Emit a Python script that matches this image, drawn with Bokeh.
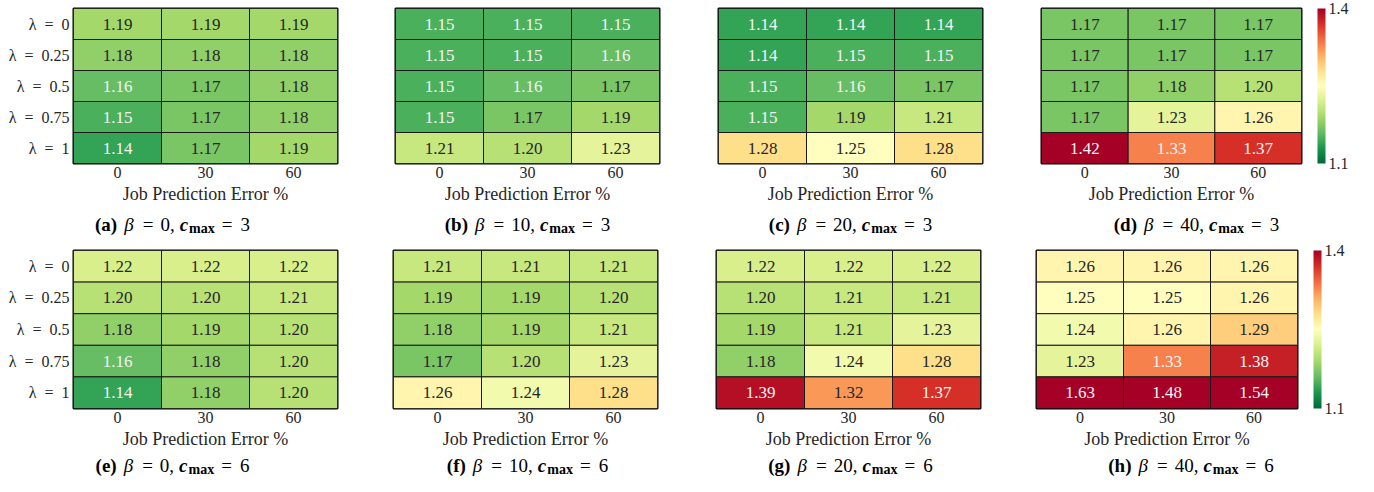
import numpy as np
from bokeh.plotting import figure
from bokeh.models import ColumnDataSource, LinearColorMapper, ColorBar, FixedTicker, FactorRange, Range1d
from bokeh.layouts import row, column
from bokeh.transform import transform
from bokeh.core.properties import value
from bokeh.embed import file_html
from bokeh.resources import INLINE

# ---------------- data ----------------
error_labels = ["0", "30", "60"]
lambda_labels = ["λ = 0", "λ = 0.25", "λ = 0.5", "λ = 0.75", "λ = 1"]
panel_letters = ["a", "b", "c", "d", "e", "f", "g", "h"]
beta_values = [0, 10, 20, 40]
cmax_values = [3, 6]

# rows: lambda = 0, 0.25, 0.5, 0.75, 1 ; cols: error 0, 30, 60
vals_a = [[1.19, 1.19, 1.19], [1.18, 1.18, 1.18], [1.16, 1.17, 1.18], [1.15, 1.17, 1.18], [1.14, 1.17, 1.19]]
vals_b = [[1.15, 1.15, 1.15], [1.15, 1.15, 1.16], [1.15, 1.16, 1.17], [1.15, 1.17, 1.19], [1.21, 1.20, 1.23]]
vals_c = [[1.14, 1.14, 1.14], [1.14, 1.15, 1.15], [1.15, 1.16, 1.17], [1.15, 1.19, 1.21], [1.28, 1.25, 1.28]]
vals_d = [[1.17, 1.17, 1.17], [1.17, 1.17, 1.17], [1.17, 1.18, 1.20], [1.17, 1.23, 1.26], [1.42, 1.33, 1.37]]
vals_e = [[1.22, 1.22, 1.22], [1.20, 1.20, 1.21], [1.18, 1.19, 1.20], [1.16, 1.18, 1.20], [1.14, 1.18, 1.20]]
vals_f = [[1.21, 1.21, 1.21], [1.19, 1.19, 1.20], [1.18, 1.19, 1.21], [1.17, 1.20, 1.23], [1.26, 1.24, 1.28]]
vals_g = [[1.22, 1.22, 1.22], [1.20, 1.21, 1.21], [1.19, 1.21, 1.23], [1.18, 1.24, 1.28], [1.39, 1.32, 1.37]]
vals_h = [[1.26, 1.26, 1.26], [1.25, 1.25, 1.26], [1.24, 1.26, 1.29], [1.23, 1.33, 1.38], [1.63, 1.48, 1.54]]
panel_values = [vals_a, vals_b, vals_c, vals_d, vals_e, vals_f, vals_g, vals_h]

color_low, color_high = 1.1, 1.4
colorbar_ticks = [1.1, 1.4]

# ---------------- colormap (RdYlGn reversed) ----------------
anchors = ['#006837', '#1a9850', '#66bd63', '#a6d96a', '#d9ef8b', '#ffffbf',
           '#fee08b', '#fdae61', '#f46d43', '#d73027', '#a50026']
anc_rgb = np.array([[int(h[i:i + 2], 16) for i in (1, 3, 5)] for h in anchors], dtype=float)
pos = np.linspace(0, 1, len(anchors))
tt = np.linspace(0, 1, 256)
pal_rgb = np.stack([np.interp(tt, pos, anc_rgb[:, k]) for k in range(3)], axis=1)
palette = ['#%02x%02x%02x' % tuple(int(round(v)) for v in c) for c in pal_rgb]


def text_color(v):
    t = min(max((v - color_low) / (color_high - color_low), 0), 1)
    rgb = np.array([np.interp(t, pos, anc_rgb[:, k]) for k in range(3)]) / 255.0
    lin = np.where(rgb <= 0.03928, rgb / 12.92, ((rgb + 0.055) / 1.055) ** 2.4)
    lum = 0.2126 * lin[0] + 0.7152 * lin[1] + 0.0722 * lin[2]
    return "#262626" if lum > 0.408 else "#f4f4f4"


mapper = LinearColorMapper(palette=palette, low=color_low, high=color_high)

FONT = "Liberation Serif"

# ---------------- layout geometry ----------------
frame_w = [[264, 264, 264, 260], [264, 264, 264, 261]]
left_b = [[73, 29, 29, 29], [73, 29, 30, 28]]
right_b = [[29, 30, 30, 65], [27, 29, 28, 69]]
TOTAL_W = 1366
TOP_B = 8
frame_h = [155, 158]
BOTTOM_B = 45
cap_h = [34, 35]
cap_base = [18, 23]
cap_dx = [[-33, 0, 0, 25], [-33, 2, 2, 24]]


def tw(s, size, bold=False):
    reg = {'(': .333, ')': .333, '=': .564, ',': .25, ' ': .25}
    bld = {'(': .333, ')': .333, 'a': .5, 'b': .556, 'c': .444, 'd': .556, 'e': .444,
           'f': .333, 'g': .5, 'h': .556, 'm': .833, 'x': .5}
    tab = bld if bold else reg
    return sum(tab.get(ch, .5) for ch in s) * size


def caption_pieces(letter, beta, cmax):
    return [("(%s)" % letter, "bold", 19, 0, 7),
            ("β", "italic", 19, 0, 9),
            ("=", "normal", 19, 0, 7),
            ("%d," % beta, "normal", 19, 0, 5),
            ("c", "bold italic", 19, 0, 1),
            ("max", "bold", 14, -4, 7),
            ("=", "normal", 19, 0, 8),
            ("%d" % cmax, "normal", 19, 0, 0)]


def caption_row(height, base, centers, letters, betas, cmax):
    cp = figure(x_range=Range1d(0, TOTAL_W), y_range=Range1d(0, height),
                frame_width=TOTAL_W, frame_height=height,
                min_border_left=0, min_border_right=0, min_border_top=0, min_border_bottom=0,
                x_axis_location=None, y_axis_location=None,
                toolbar_location=None, output_backend="svg")
    cp.grid.visible = False
    cp.outline_line_color = None
    cp.background_fill_color = "white"
    cp.border_fill_color = "white"
    for center, letter, beta in zip(centers, letters, betas):
        pieces = caption_pieces(letter, beta, cmax)
        widths = [tw(t, s, "bold" in st) for t, st, s, _, _ in pieces]
        total = sum(widths) + sum(g for *_, g in pieces)
        cur = center - total / 2.0
        for (t, st, s, dy, g), w in zip(pieces, widths):
            cp.text(x=[cur], y=[base + dy], text=[t], text_font=value(FONT),
                    text_font_size="%dpx" % s, text_font_style=st, text_color="black",
                    text_align="left", text_baseline="alphabetic")
            cur += w + g
    return cp


lambda_factors = [lab.replace(" = ", "\u2002=\u2002") for lab in lambda_labels]

blocks = []
for r in range(2):
    figs = []
    centers = []
    origin = 0
    for c in range(4):
        k = r * 4 + c
        vals = panel_values[k]
        xs, ys, vs, labs, tcs = [], [], [], [], []
        for i, lam in enumerate(lambda_factors):
            for j, err in enumerate(error_labels):
                v = vals[i][j]
                xs.append(err)
                ys.append(lam)
                vs.append(v)
                labs.append("%.2f" % v)
                tcs.append(text_color(v))
        src = ColumnDataSource(dict(x=xs, y=ys, v=vs, lab=labs, tc=tcs))

        p = figure(x_range=FactorRange(*error_labels),
                   y_range=FactorRange(*lambda_factors[::-1]),
                   frame_width=frame_w[r][c], frame_height=frame_h[r],
                   min_border_left=left_b[r][c], min_border_right=right_b[r][c],
                   min_border_top=TOP_B, min_border_bottom=BOTTOM_B,
                   toolbar_location=None, output_backend="svg")
        p.rect(x="x", y="y", width=1, height=1, source=src,
               fill_color=transform("v", mapper), line_color="#1a1a1a", line_width=1)
        p.text(x="x", y="y", text="lab", source=src, text_color="tc",
               text_align="center", text_baseline="middle",
               text_font=value(FONT), text_font_size="17px")

        p.grid.visible = False
        p.outline_line_color = "black"
        p.outline_line_width = 2
        p.background_fill_color = "white"
        p.border_fill_color = "white"

        ax = p.xaxis[0]
        ax.axis_label = "Job Prediction Error %"
        ax.axis_label_text_font = FONT
        ax.axis_label_text_font_size = "18px"
        ax.axis_label_text_font_style = "normal"
        ax.axis_label_text_color = "#262626"
        ax.axis_label_standoff = 3
        ax.major_label_text_font = FONT
        ax.major_label_text_font_size = "16px"
        ax.major_label_text_color = "#262626"
        ax.major_label_standoff = 3
        ax.major_tick_out = 0
        ax.major_tick_in = 0
        ax.major_tick_line_color = None
        ax.minor_tick_line_color = None
        ax.axis_line_color = None

        ay = p.yaxis[0]
        if c == 0:
            ay.major_label_text_font = FONT
            ay.major_label_text_font_size = "16px"
            ay.major_label_text_color = "#262626"
            ay.major_label_standoff = 4
            ay.major_tick_out = 0
            ay.major_tick_in = 0
            ay.major_tick_line_color = None
            ay.minor_tick_line_color = None
            ay.axis_line_color = None
        else:
            ay.visible = False

        if c == 3:
            cb = ColorBar(color_mapper=mapper, ticker=FixedTicker(ticks=colorbar_ticks),
                          width=8, height=frame_h[r], padding=0, margin=0, location=(16, 0),
                          major_tick_line_color=None, bar_line_color=None,
                          label_standoff=3, major_label_text_font=FONT,
                          major_label_text_font_size="16px",
                          major_label_text_color="#262626",
                          background_fill_color=None, border_line_color=None)
            p.add_layout(cb, "right")

        centers.append(origin + left_b[r][c] + frame_w[r][c] / 2.0 + cap_dx[r][c])
        origin += left_b[r][c] + frame_w[r][c] + right_b[r][c]
        figs.append(p)

    blocks.append(row(*figs))
    blocks.append(caption_row(cap_h[r], cap_base[r], centers,
                              panel_letters[r * 4:(r + 1) * 4], beta_values, cmax_values[r]))

layout = column(*blocks)
open("out.html", "w").write(file_html(layout, INLINE))
